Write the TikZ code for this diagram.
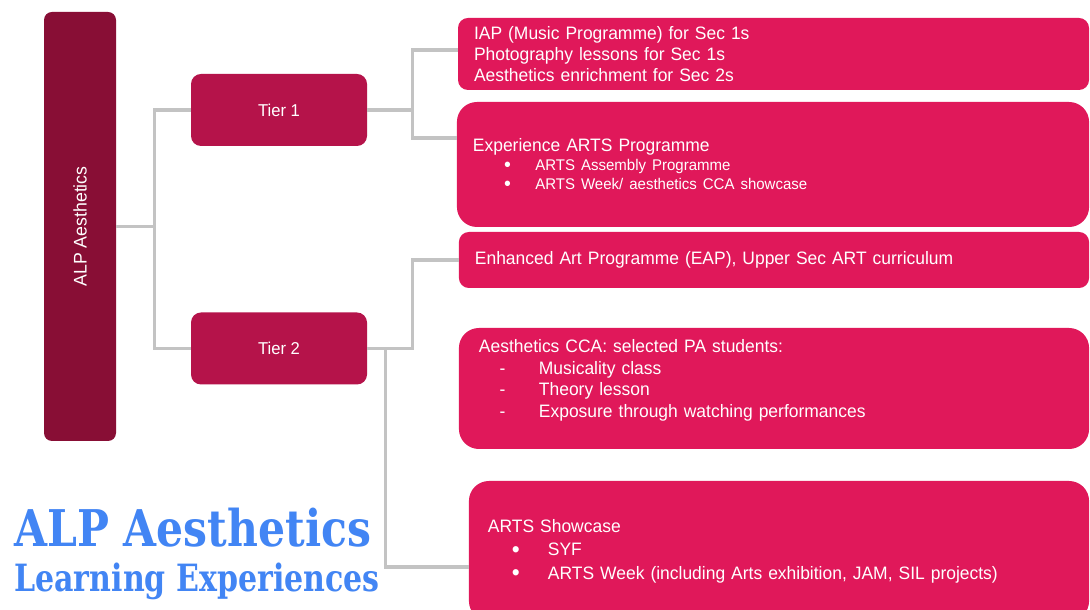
\documentclass[tikz,border=0pt]{standalone}
\usepackage{fontspec}
\setmainfont{Liberation Sans}[FakeStretch=0.97]
\newfontfamily\titlefont{DejaVu Serif}[FakeStretch=0.84]
\newfontfamily\subtitlefont{DejaVu Serif}[FakeStretch=0.8]
\usepackage{xcolor}
\usepackage{tikz}
\usetikzlibrary{positioning,calc}

\definecolor{rootred}{HTML}{880E35}
\definecolor{tierred}{HTML}{B5134A}
\definecolor{itemred}{HTML}{E0185A}
\definecolor{linegray}{HTML}{C3C3C3}
\definecolor{titleblue}{HTML}{4285F4}

% list line: indent, marker width, marker, text
\newcommand{\lstline}[4]{\hspace*{#1}\makebox[#2][l]{#3}#4}
\newcommand{\bigdot}{\raisebox{-0.1em}{\scalebox{1.3}{\textbullet}}}

\begin{document}
\begin{tikzpicture}[x=0.025cm,y=0.025cm,
    rootbox/.style={fill=rootred,rounded corners=8*\px,inner sep=0pt,text=white,font=\fontsize{13}{15}\selectfont},
    tierbox/.style={fill=tierred,rounded corners=10*\px,minimum width=176*\px,minimum height=72*\px,inner sep=0pt,text=white,font=\fontsize{12.2}{14}\selectfont},
    itembox/.style={fill=itemred,inner ysep=0pt,align=left,text=white,font=\fontsize{12.8}{15}\selectfont},
    conn/.style={draw=linegray,line width=3.5*\px}]
    \def\px{0.025cm}
    \useasboundingbox[fill=white] (0,0) rectangle (1090,610);

    % root and tiers
    \node[rootbox,minimum width=72*\px,minimum height=429*\px] (alp) at (80,383.5) {\rotatebox{90}{ALP Aesthetics}};
    \node[tierbox] (tierone) at (279,500) {Tier 1};
    \node[tierbox] (tiertwo) at (279,261.5) {Tier 2};

    % tier 1 items
    \node[itembox,rounded corners=10*\px,minimum width=631*\px,minimum height=72*\px,inner xsep=16*\px,text width=14.97cm] (iap) at (773.5,556)
        {IAP (Music Programme) for Sec 1s\\Photography lessons for Sec 1s\\Aesthetics enrichment for Sec 2s};
    \node[itembox,rounded corners=20*\px,minimum width=632*\px,minimum height=125*\px,inner xsep=16*\px,text width=15cm,font=\fontsize{12.8}{13.5}\selectfont] (experience) at (773,445.5)
        {Experience ARTS Programme\\
         {\fontsize{11}{13.5}\selectfont\lstline{0.78cm}{0.78cm}{\bigdot}{ARTS Assembly Programme}}\\
         {\fontsize{11}{13.5}\selectfont\lstline{0.78cm}{0.78cm}{\bigdot}{ARTS Week/ aesthetics CCA showcase}}};

    % tier 2 items
    \node[itembox,rounded corners=10*\px,minimum width=630*\px,minimum height=56*\px,inner xsep=16*\px,text width=14.95cm] (eap) at (774,350)
        {Enhanced Art Programme (EAP), Upper Sec ART curriculum};
    \node[itembox,rounded corners=20*\px,minimum width=630*\px,minimum height=121*\px,inner xsep=20*\px,text width=14.75cm,font=\fontsize{12.8}{15.6}\selectfont] (cca) at (774,221.5)
        {Aesthetics CCA: selected PA students:\\
         \lstline{0.52cm}{0.98cm}{-}{Musicality class}\\
         \lstline{0.52cm}{0.98cm}{-}{Theory lesson}\\
         \lstline{0.52cm}{0.98cm}{-}{Exposure through watching performances}\rule[-0.5cm]{0pt}{0.5cm}};
    \node[itembox,rounded corners=20*\px,minimum width=620*\px,minimum height=140*\px,inner xsep=19*\px,text width=14.55cm,font=\fontsize{12.8}{16.7}\selectfont] (showcase) at (779,59)
        {ARTS Showcase\\
         \lstline{0.6cm}{0.9cm}{\bigdot}{SYF}\\
         \lstline{0.6cm}{0.9cm}{\bigdot}{ARTS Week (including Arts exhibition, JAM, SIL projects)}};

    % connectors
    \draw[conn] (alp.east) -- ++(38,0) coordinate (rootfork);
    \draw[conn] (tierone.west) -| (rootfork) |- (tiertwo.west);
    \draw[conn] (tierone.east) -- ++(45,0) coordinate (onefork);
    \draw[conn] ($(iap.west)+(0,4)$) -| (onefork) |- ($(experience.west)+(0,26.5)$);
    \draw[conn] (tiertwo.east) -- ++(45,0) |- (eap.west);
    \draw[conn] ($(tiertwo.east)+(18,0)$) |- ($(showcase.west)+(0,-16)$);

    % title
    \node[anchor=base west,inner sep=0pt,text=titleblue,font=\titlefont\bfseries\fontsize{36}{40}\selectfont] (titletop) at (14,63) {ALP Aesthetics};
    \node[anchor=base west,inner sep=0pt,text=titleblue,font=\subtitlefont\bfseries\fontsize{26.7}{30}\selectfont] (titlebottom) at (14,18) {Learning Experiences};
\end{tikzpicture}
\end{document}
